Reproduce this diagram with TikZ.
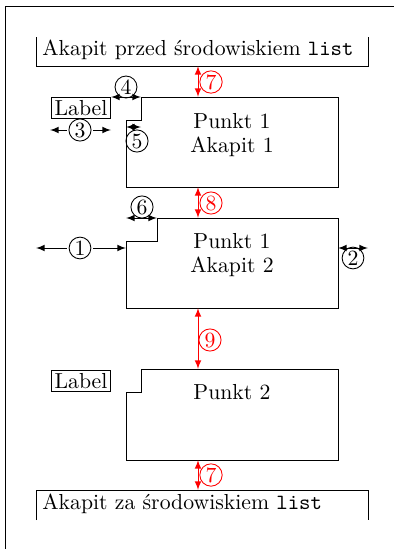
\documentclass[tikz,border=0pt]{standalone}
\usepackage{tikz}
\usetikzlibrary{arrows}

\begin{document}
\begin{tikzpicture}[
  x=0.46pt, y=-0.46pt,
  >=latex,
  num/.style={circle, draw, inner sep=0.6pt, outer sep=1pt},
  rnum/.style={num, red},
  lab/.style={draw, inner sep=1.5pt},
  txt/.style={inner sep=0pt, anchor=base west},
  item/.style={align=center, inner sep=0pt, anchor=base},
  gap/.style={<->, red}
]
\useasboundingbox (0,0) rectangle (394,549);
\draw (5,549) -- (5,6) -- (394,6);

% akapit przed
\draw (36,37) -- (36,66) -- (368,66) -- (368,37);
\node[txt] (przed) at (42,55) {Akapit przed środowiskiem \texttt{list}};

% punkt 1, akapit 1
\draw (141,97) -- (338,97) -- (338,187) -- (126,187) -- (126,120) -- (141,120) -- cycle;
\node[item] (p1a1) at (232,152) {Punkt 1\\[-1pt]Akapit 1};
\node[lab] (lab1) at (81,108) {Label};

% punkt 1, akapit 2
\draw (157,218) -- (338,218) -- (338,308) -- (126,308) -- (126,241) -- (157,241) -- cycle;
\node[item] (p1a2) at (232,272) {Punkt 1\\[-1pt]Akapit 2};

% punkt 2
\draw (141,369) -- (338,369) -- (338,460) -- (126,460) -- (126,392) -- (141,392) -- cycle;
\node[item] (p2) at (232,399) {Punkt 2};
\node[lab] (lab2) at (81,381) {Label};

% akapit za
\draw (36,520) -- (36,490) -- (368,490) -- (368,520);
\node[txt] (za) at (42,509) {Akapit za środowiskiem \texttt{list}};

% punkty zaczepienia
\coordinate (przedS) at (198,66);
\coordinate (p1N) at (198,97);
\coordinate (p1S) at (198,187);
\coordinate (p2N) at (198,218);
\coordinate (p2S) at (198,308);
\coordinate (p3N) at (198,369);
\coordinate (p3S) at (198,460);
\coordinate (zaN) at (198,490);
\coordinate (margL) at (36,248);
\coordinate (boxL) at (126,248);
\coordinate (boxR) at (338,248);
\coordinate (margR) at (368,248);
\coordinate (labL) at (50,130);
\coordinate (labR) at (111,130);
\coordinate (sepL) at (111,97);
\coordinate (sepR) at (141,97);
\coordinate (indL) at (126,127);
\coordinate (indR) at (141,127);
\coordinate (parL) at (126,218);
\coordinate (parR) at (157,218);

% wymiary
\node[num] (n1) at (80,248) {1};
\node[num] (n2) at (353,258) {2};
\node[num] (n3) at (80,130) {3};
\node[num] (n4) at (126,87) {4};
\node[num] (n5) at (137,141) {5};
\node[num] (n6) at (142,207) {6};
\node[rnum] (n7a) at (211,82) {7};
\node[rnum] (n8) at (211,203) {8};
\node[rnum] (n9) at (210,340) {9};
\node[rnum] (n7b) at (211,475) {7};

\draw[->] (n1) -- (margL);
\draw[->] (n1) -- (boxL);
\draw[<->] (boxR) -- (margR);
\draw[->] (n3) -- (labL);
\draw[->] (n3) -- (labR);
\draw[<->] (sepL) -- (sepR);
\draw[<->] (indL) -- (indR);
\draw[<->] (parL) -- (parR);
\draw[gap] (przedS) -- (p1N);
\draw[gap] (p1S) -- (p2N);
\draw[gap] (p2S) -- (p3N);
\draw[gap] (p3S) -- (zaN);
\end{tikzpicture}
\end{document}
